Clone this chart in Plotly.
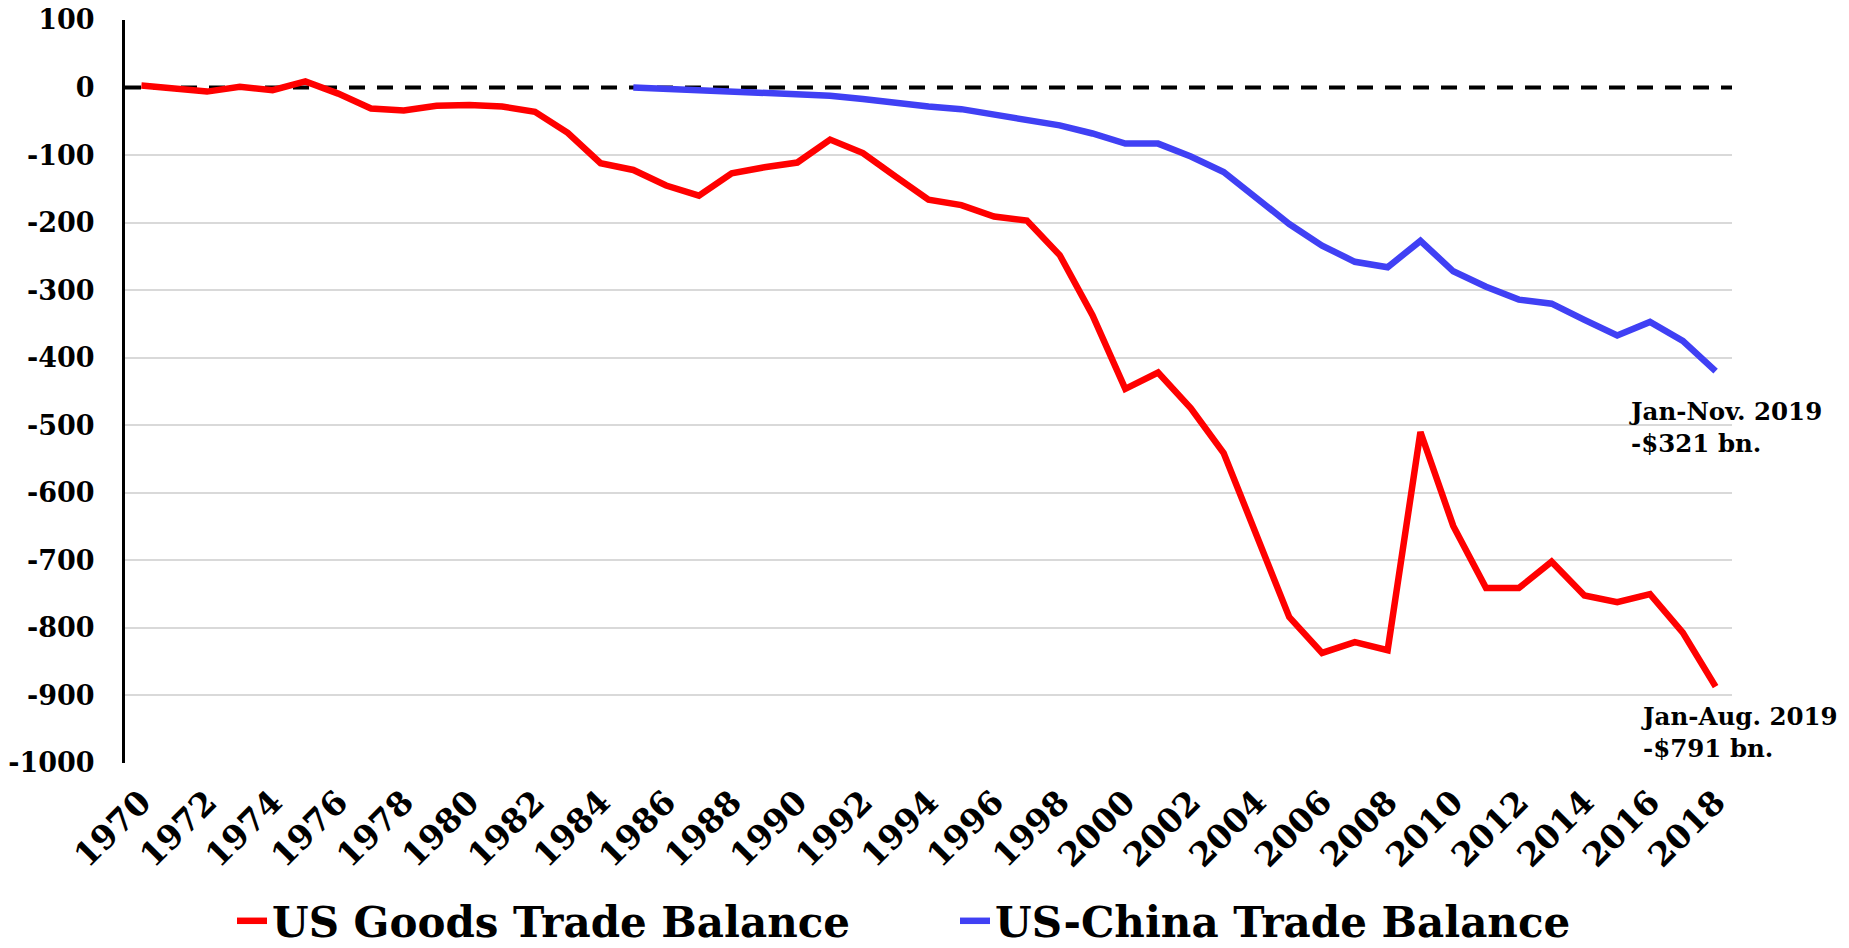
import plotly.graph_objects as go

years = list(range(1970, 2019))

us_goods_balance = [3, -2, -6, 1, -4, 9, -9, -31, -34, -27, -26, -28, -36, -67,
                    -112, -122, -145, -160, -127, -118, -111, -77, -97, -132,
                    -166, -174, -191, -197, -248, -337, -446, -422, -475, -541,
                    -665, -784, -837, -821, -833, -510, -649, -741, -741, -702,
                    -752, -762, -750, -807, -887]

china_years = list(range(1985, 2019))
us_china_balance = [0, -2, -2, -4, -6, -9, -12, -17, -23, -28, -32, -40, -48, -56,
                    -68, -83, -83, -102, -125, -162, -202, -234, -258, -266, -227,
                    -272, -295, -314, -320, -344, -367, -347, -375, -420]

series_names = ["US Goods Trade Balance", "US-China Trade Balance"]
y_ticks = [100, 0, -100, -200, -300, -400, -500, -600, -700, -800, -900, -1000]
y_tick_text = ["100", "0", "-100", "-200", "-300", "-400", "-500", "-600",
               "-700", "-800", "-900", "-1000"]
x_ticks = list(range(1970, 2019, 2))

notes = [
    {"x": 2015.29, "y": -504, "text": "Jan-Nov. 2019<br>-$321 bn."},
    {"x": 2015.66, "y": -955, "text": "Jan-Aug. 2019<br>-$791 bn."},
]

FONT = "DejaVu Serif"
RED = "#FF0000"
BLUE = "#4040F4"

fig = go.Figure()
fig.add_trace(go.Scatter(x=years, y=us_goods_balance, mode="lines",
                         name=series_names[0],
                         line=dict(color=RED, width=6.5)))
fig.add_trace(go.Scatter(x=china_years, y=us_china_balance, mode="lines",
                         name=series_names[1],
                         line=dict(color=BLUE, width=6.5)))

fig.add_shape(type="line", xref="paper", yref="y", x0=0, x1=1, y0=0, y1=0,
              line=dict(color="black", width=4, dash="16px,12px"), layer="between")

for n in notes:
    fig.add_annotation(x=n["x"], y=n["y"], xref="x", yref="y", text=n["text"],
                       showarrow=False, xanchor="left", yanchor="middle", align="left",
                       font=dict(family=FONT, size=24.5, color="black", weight="bold"))

fig.update_layout(
    width=1849, height=948,
    margin=dict(l=125, r=117, t=20, b=185, autoexpand=False),
    paper_bgcolor="white", plot_bgcolor="white",
    font=dict(family=FONT, color="black"),
    showlegend=True,
    legend=dict(orientation="h", xref="container", yref="container",
                x=232 / 1849, xanchor="left", y=1 - 921 / 948, yanchor="middle",
                font=dict(family=FONT, size=42, color="black", weight="bold"),
                itemwidth=30, entrywidth=678, entrywidthmode="pixels"),
    xaxis=dict(range=[1969.5, 2018.5], tickvals=x_ticks, ticktext=[str(v) for v in x_ticks],
               tickangle=-45, showgrid=False, zeroline=False, showline=False,
               ticks="", ticklabelstandoff=12, automargin=False,
               tickfont=dict(family=FONT, size=33, color="black", weight="bold")),
    yaxis=dict(range=[-1000, 100], tickvals=y_ticks, ticktext=y_tick_text,
               showgrid=True, gridcolor="#D9D9D9", gridwidth=1.5,
               zeroline=True, zerolinecolor="rgba(255,255,255,0)", zerolinewidth=1,
               showline=True, linecolor="black", linewidth=3,
               ticks="", ticklabelstandoff=22, automargin=False,
               tickfont=dict(family=FONT, size=27, color="black", weight="bold")),
)

fig.write_html("out.html", config={"displayModeBar": False},
               post_script="document.body.style.margin='0';document.body.style.overflow='hidden';")
